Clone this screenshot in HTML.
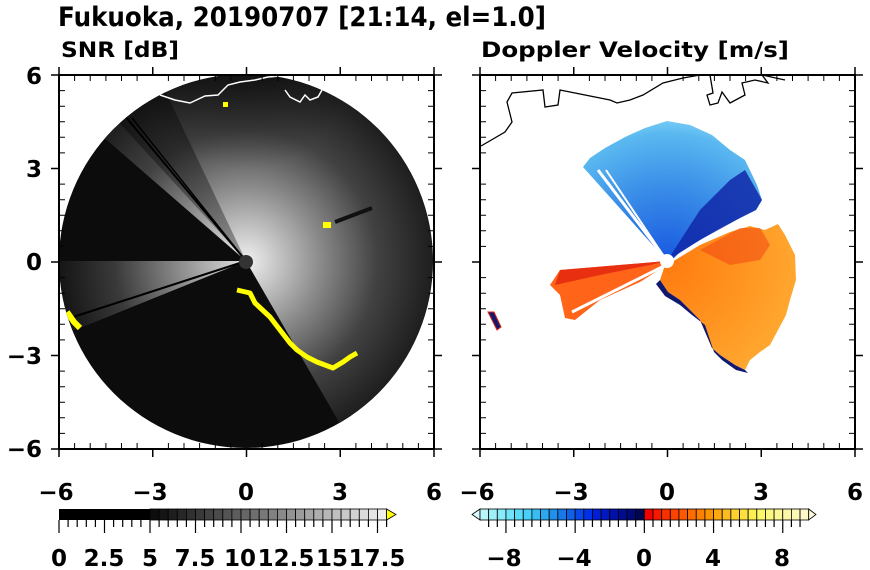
<!DOCTYPE html>
<html><head><meta charset="utf-8"><style>
html,body{margin:0;padding:0;background:#fff;}
svg{display:block;}
text{font-family:"DejaVu Sans","Liberation Sans",sans-serif;font-weight:bold;fill:#000;}
</style></head><body>
<svg width="870" height="570" viewBox="0 0 870 570" xmlns="http://www.w3.org/2000/svg">
<defs>
<radialGradient id="gs" cx="246" cy="261" r="187" gradientUnits="userSpaceOnUse">
<stop offset="0" stop-color="#f0f0f0"/><stop offset="0.15" stop-color="#cacaca"/>
<stop offset="0.4" stop-color="#8a8a8a"/><stop offset="0.7" stop-color="#424242"/><stop offset="1" stop-color="#1e1e1e"/>
</radialGradient>
<radialGradient id="gw" cx="246" cy="261" r="187" gradientUnits="userSpaceOnUse">
<stop offset="0" stop-color="#e0e0e0"/><stop offset="0.3" stop-color="#9a9a9a"/>
<stop offset="0.7" stop-color="#3a3a3a"/><stop offset="1" stop-color="#151515"/>
</radialGradient>
<radialGradient id="gb" cx="667" cy="261" r="150" gradientUnits="userSpaceOnUse">
<stop offset="0" stop-color="#1858e0"/><stop offset="0.5" stop-color="#3a8ee8"/>
<stop offset="0.85" stop-color="#5ab8f0"/><stop offset="1" stop-color="#8ad8f8"/>
</radialGradient>
<radialGradient id="go" cx="667" cy="261" r="150" gradientUnits="userSpaceOnUse">
<stop offset="0" stop-color="#ff7a10"/><stop offset="0.5" stop-color="#ff9420"/>
<stop offset="0.9" stop-color="#ffa830"/><stop offset="1" stop-color="#ffc050"/>
</radialGradient>
<radialGradient id="top" cx="246" cy="60" r="110" gradientUnits="userSpaceOnUse">
<stop offset="0" stop-color="#000" stop-opacity="0.5"/><stop offset="1" stop-color="#000" stop-opacity="0"/>
</radialGradient>
<clipPath id="cc"><circle cx="246" cy="261" r="187"/></clipPath>
</defs>

<text x="58" y="26" font-size="27" textLength="488" lengthAdjust="spacingAndGlyphs">Fukuoka, 20190707 [21:14, el=1.0]</text>
<text x="61" y="57" font-size="21" textLength="118" lengthAdjust="spacingAndGlyphs">SNR [dB]</text>
<text x="481" y="57" font-size="21" textLength="308" lengthAdjust="spacingAndGlyphs">Doppler Velocity [m/s]</text>

<circle cx="246" cy="261" r="187" fill="#0c0c0c"/>
<g clip-path="url(#cc)">
<path d="M246,261 L339.5,423 A187,187 0 1 0 104.8,138.3 Z" fill="url(#gs)"/>
<path d="M246,261 L59,261 A187,187 0 0 0 72.6,331 Z" fill="url(#gw)"/>
<path d="M246,261 L80,80 L160,80 Z" fill="#000" opacity="0.35"/>
<rect x="59" y="60" width="380" height="120" fill="url(#top)"/>
<line x1="246" y1="261" x2="120" y2="110" stroke="#000" stroke-width="2"/>
<line x1="246" y1="261" x2="132" y2="118" stroke="#000" stroke-width="1.5"/>
<line x1="246" y1="261" x2="70" y2="318" stroke="#000" stroke-width="2"/>
<line x1="335" y1="222" x2="372" y2="208" stroke="#111" stroke-width="4"/>
<polyline points="160,95 175,100 190,103 205,96 218,95 228,85 240,82 255,80 268,77 280,76" fill="none" stroke="#fff" stroke-width="1.5"/>
<polyline points="285,90 290,97 300,102 305,95 310,100 318,97 322,90 328,88" fill="none" stroke="#fff" stroke-width="1.5"/>
<polyline points="237,290 250,293 255,303 270,317 280,330 290,343 297,350 307,357 317,362 333,368 343,362 350,357 357,353" fill="none" stroke="#ffff00" stroke-width="5" stroke-linejoin="round"/>
<rect x="323" y="222" width="8" height="6" fill="#ffff00"/>
<rect x="223" y="102" width="5" height="5" fill="#ffff00"/>
<polyline points="67,312 74,322 80,328" fill="none" stroke="#ffff00" stroke-width="6"/>
</g>
<circle cx="246" cy="262" r="7" fill="#333"/>

<g>
<path d="M667,261 L583,167 L590,158 L605,148 L625,137 L645,128 L667,121 L690,125 L712,135 L730,150 L745,160 L757,185 L762,200 L756,210 L740,218 L720,228 L700,240 L680,252 L672,260 Z" fill="url(#gb)"/>
<path d="M667,261 L700,240 L740,218 L756,210 L762,200 L745,170 L730,180 L700,210 Z" fill="#1028a8" opacity="0.85"/>
<line x1="667" y1="261" x2="598" y2="170" stroke="#fff" stroke-width="3"/>
<line x1="667" y1="261" x2="606" y2="170" stroke="#fff" stroke-width="2"/>
<path d="M672,262 L700,245 L730,232 L750,226 L765,230 L778,224 L785,235 L795,255 L796,280 L790,300 L786,315 L778,330 L770,345 L760,352 L750,360 L745,370 L735,365 L720,355 L712,348 L700,320 L690,310 L680,300 L668,292 L660,280 L664,268 Z" fill="url(#go)"/>
<path d="M660,280 L668,292 L680,300 L690,310 L700,320 L712,348 L720,355 L735,365 L745,370 L748,373 L736,370 L722,360 L714,352 L705,325 L692,315 L680,305 L665,296 L656,284 Z" fill="#101870"/>
<path d="M700,250 L740,228 L760,228 L770,245 L760,260 L730,265 Z" fill="#f04010" opacity="0.5"/>
<path d="M667,261 L560,270 L550,285 L560,295 L565,318 L575,320 L600,300 L640,282 L662,268 Z" fill="#ff6418"/>
<path d="M667,261 L560,270 L555,285 L600,275 L650,265 Z" fill="#e83010"/>
<line x1="664" y1="266" x2="572" y2="312" stroke="#fff" stroke-width="3"/>
<path d="M488,312 L494,312 L501,327 L497,330 Z" fill="#101870" stroke="#e02010" stroke-width="1"/>
<circle cx="667" cy="261" r="7" fill="#fff"/>
<polyline points="481,146 505,132 512,122 507,102 512,93 543,90 545,107 558,105 560,90 570,92 610,100 617,103 630,100 643,95 663,83 683,78 700,75 710,75 713,93 707,95 710,105 718,103 722,92 730,103 745,95 742,83 755,80 768,83 762,75 785,80" fill="none" stroke="#000" stroke-width="1.3"/>
</g>

<g stroke="#000" fill="none">
<rect x="59" y="75" width="375" height="374" stroke-width="2"/>
<rect x="480" y="75" width="375" height="374" stroke-width="2"/>
</g>
<g stroke="#000" stroke-width="1.5">
<path d="
M59,75v-8M152.75,75v-8M246.5,75v-8M340.25,75v-8M434,75v-8
M59,449v8M152.75,449v8M246.5,449v8M340.25,449v8M434,449v8
M59,75h-8M59,168.5h-8M59,262h-8M59,355.5h-8M59,449h-8
M434,75h8M434,168.5h8M434,262h8M434,355.5h8M434,449h8
M480,75v-8M573.75,75v-8M667.5,75v-8M761.25,75v-8M855,75v-8
M480,449v8M573.75,449v8M667.5,449v8M761.25,449v8M855,449v8
M480,75h-8M480,168.5h-8M480,262h-8M480,355.5h-8M480,449h-8
M855,75h8M855,168.5h8M855,262h8M855,355.5h8M855,449h8"/>
</g>
<g stroke="#000" stroke-width="1">
<path id="mn" d="
M74.6,75v6M90.2,75v6M105.9,75v6M121.5,75v6M137.1,75v6M168.4,75v6M184,75v6M199.6,75v6M215.3,75v6M230.9,75v6M262.1,75v6M277.8,75v6M293.4,75v6M309,75v6M324.6,75v6M355.9,75v6M371.5,75v6M387.1,75v6M402.8,75v6M418.4,75v6
M74.6,449v-6M90.2,449v-6M105.9,449v-6M121.5,449v-6M137.1,449v-6M168.4,449v-6M184,449v-6M199.6,449v-6M215.3,449v-6M230.9,449v-6M262.1,449v-6M277.8,449v-6M293.4,449v-6M309,449v-6M324.6,449v-6M355.9,449v-6M371.5,449v-6M387.1,449v-6M402.8,449v-6M418.4,449v-6
M59,90.6h6M59,106.2h6M59,121.8h6M59,137.3h6M59,152.9h6M59,184.1h6M59,199.7h6M59,215.3h6M59,230.8h6M59,246.4h6M59,277.6h6M59,293.2h6M59,308.8h6M59,324.3h6M59,339.9h6M59,371.1h6M59,386.7h6M59,402.3h6M59,417.8h6M59,433.4h6
M434,90.6h-6M434,106.2h-6M434,121.8h-6M434,137.3h-6M434,152.9h-6M434,184.1h-6M434,199.7h-6M434,215.3h-6M434,230.8h-6M434,246.4h-6M434,277.6h-6M434,293.2h-6M434,308.8h-6M434,324.3h-6M434,339.9h-6M434,371.1h-6M434,386.7h-6M434,402.3h-6M434,417.8h-6M434,433.4h-6"/>
<use href="#mn" transform="translate(421,0)"/>
</g>

<g font-size="23" text-anchor="end">
<text x="42" y="84">6</text><text x="42" y="177">3</text><text x="42" y="270">0</text><text x="42" y="364">−3</text><text x="42" y="457">−6</text>
</g>
<g font-size="23" text-anchor="middle">
<text x="56" y="500">−6</text><text x="150" y="500">−3</text><text x="246" y="500">0</text><text x="340" y="500">3</text><text x="434" y="500">6</text>
<text x="477" y="500">−6</text><text x="571" y="500">−3</text><text x="667" y="500">0</text><text x="761" y="500">3</text><text x="855" y="500">6</text>
</g>

<rect x="59" y="509" width="91" height="11" fill="#000"/>
<g stroke="#000" stroke-width="0.8">
<rect x="150" y="509" width="9.1" height="11" fill="#0d0d0d"/><rect x="159.1" y="509" width="9.1" height="11" fill="#151515"/><rect x="168.2" y="509" width="9.1" height="11" fill="#1e1e1e"/><rect x="177.3" y="509" width="9.1" height="11" fill="#272727"/><rect x="186.4" y="509" width="9.1" height="11" fill="#303030"/><rect x="195.5" y="509" width="9.1" height="11" fill="#393939"/><rect x="204.6" y="509" width="9.1" height="11" fill="#424242"/><rect x="213.7" y="509" width="9.1" height="11" fill="#4b4b4b"/><rect x="222.8" y="509" width="9.1" height="11" fill="#545454"/><rect x="231.9" y="509" width="9.1" height="11" fill="#5d5d5d"/><rect x="241" y="509" width="9.1" height="11" fill="#666"/><rect x="250.1" y="509" width="9.1" height="11" fill="#6f6f6f"/><rect x="259.2" y="509" width="9.1" height="11" fill="#787878"/><rect x="268.3" y="509" width="9.1" height="11" fill="#818181"/><rect x="277.4" y="509" width="9.1" height="11" fill="#8a8a8a"/><rect x="286.5" y="509" width="9.1" height="11" fill="#939393"/><rect x="295.6" y="509" width="9.1" height="11" fill="#9c9c9c"/><rect x="304.7" y="509" width="9.1" height="11" fill="#a5a5a5"/><rect x="313.8" y="509" width="9.1" height="11" fill="#aeaeae"/><rect x="322.9" y="509" width="9.1" height="11" fill="#b7b7b7"/><rect x="332" y="509" width="9.1" height="11" fill="#c0c0c0"/><rect x="341.1" y="509" width="9.1" height="11" fill="#c9c9c9"/><rect x="350.2" y="509" width="9.1" height="11" fill="#d2d2d2"/><rect x="359.3" y="509" width="9.1" height="11" fill="#dbdbdb"/><rect x="368.4" y="509" width="9.1" height="11" fill="#e4e4e4"/><rect x="377.5" y="509" width="9.1" height="11" fill="#ededed"/>
<path d="M386.6,509 L396,514.5 L386.6,520 Z" fill="#ffff00"/>
</g>
<path stroke="#000" stroke-width="1.2" d="M59,520v13M104.5,520v13M150,520v13M195.5,520v13M241,520v13M286.5,520v13M332,520v13M377.5,520v13
M68.1,520v7M77.2,520v7M86.3,520v7M95.4,520v7M113.6,520v7M122.7,520v7M131.8,520v7M140.9,520v7M159.1,520v7M168.2,520v7M177.3,520v7M186.4,520v7M204.6,520v7M213.7,520v7M222.8,520v7M231.9,520v7M250.1,520v7M259.2,520v7M268.3,520v7M277.4,520v7M295.6,520v7M304.7,520v7M313.8,520v7M322.9,520v7M341.1,520v7M350.2,520v7M359.3,520v7M368.4,520v7M386.6,520v7"/>
<g font-size="23" text-anchor="middle">
<text x="59" y="566">0</text><text x="104" y="566">2.5</text><text x="150" y="566">5</text><text x="195" y="566">7.5</text><text x="240" y="566">10</text><text x="286" y="566">12.5</text><text x="332" y="566">15</text><text x="377" y="566">17.5</text>
</g>

<g stroke="#000" stroke-width="0.8">
<path d="M480,509 L472,514.5 L480,520 Z" fill="#d8fcfc"/>
<rect x="480" y="509" width="8.65" height="11" fill="#b8f4f8"/><rect x="488.65" y="509" width="8.65" height="11" fill="#a0f0f8"/><rect x="497.3" y="509" width="8.65" height="11" fill="#88ecf8"/><rect x="505.95" y="509" width="8.65" height="11" fill="#70e4f8"/><rect x="514.6" y="509" width="8.65" height="11" fill="#58dcf8"/><rect x="523.25" y="509" width="8.65" height="11" fill="#48cef8"/><rect x="531.9" y="509" width="8.65" height="11" fill="#38bcf4"/><rect x="540.55" y="509" width="8.65" height="11" fill="#2ca8f0"/><rect x="549.2" y="509" width="8.65" height="11" fill="#2090ec"/><rect x="557.85" y="509" width="8.65" height="11" fill="#1878e8"/><rect x="566.5" y="509" width="8.65" height="11" fill="#1060e8"/><rect x="575.15" y="509" width="8.65" height="11" fill="#0848e8"/><rect x="583.8" y="509" width="8.65" height="11" fill="#0030e8"/><rect x="592.45" y="509" width="8.65" height="11" fill="#0020d8"/><rect x="601.1" y="509" width="8.65" height="11" fill="#0018c0"/><rect x="609.75" y="509" width="8.65" height="11" fill="#0010a8"/><rect x="618.4" y="509" width="8.65" height="11" fill="#000c90"/><rect x="627.05" y="509" width="8.65" height="11" fill="#000878"/><rect x="635.7" y="509" width="8.65" height="11" fill="#000550"/>
<rect x="644.35" y="509" width="8.65" height="11" fill="#f00000"/><rect x="653" y="509" width="8.65" height="11" fill="#f81800"/><rect x="661.65" y="509" width="8.65" height="11" fill="#f83000"/><rect x="670.3" y="509" width="8.65" height="11" fill="#fc4400"/><rect x="678.95" y="509" width="8.65" height="11" fill="#fc5800"/><rect x="687.6" y="509" width="8.65" height="11" fill="#fc6c00"/><rect x="696.25" y="509" width="8.65" height="11" fill="#fc8000"/><rect x="704.9" y="509" width="8.65" height="11" fill="#fc9400"/><rect x="713.55" y="509" width="8.65" height="11" fill="#fcaa10"/><rect x="722.2" y="509" width="8.65" height="11" fill="#fcbc20"/><rect x="730.85" y="509" width="8.65" height="11" fill="#fcd030"/><rect x="739.5" y="509" width="8.65" height="11" fill="#fce040"/><rect x="748.15" y="509" width="8.65" height="11" fill="#fcf050"/><rect x="756.8" y="509" width="8.65" height="11" fill="#fcf868"/><rect x="765.45" y="509" width="8.65" height="11" fill="#fcf880"/><rect x="774.1" y="509" width="8.65" height="11" fill="#fcf898"/><rect x="782.75" y="509" width="8.65" height="11" fill="#fcf8a8"/><rect x="791.4" y="509" width="8.65" height="11" fill="#fcf8b8"/><rect x="800.05" y="509" width="8.65" height="11" fill="#fcf8c8"/>
<path d="M808.7,509 L816,514.5 L808.7,520 Z" fill="#fcfad8"/>
</g>
<path stroke="#000" stroke-width="1.2" d="M505.95,520v13M575.15,520v13M644.35,520v13M713.55,520v13M782.75,520v13
M488.65,520v7M497.3,520v7M514.6,520v7M523.25,520v7M531.9,520v7M540.55,520v7M549.2,520v7M557.85,520v7M566.5,520v7M583.8,520v7M592.45,520v7M601.1,520v7M609.75,520v7M618.4,520v7M627.05,520v7M635.7,520v7M653,520v7M661.65,520v7M670.3,520v7M678.95,520v7M687.6,520v7M696.25,520v7M704.9,520v7M722.2,520v7M730.85,520v7M739.5,520v7M748.15,520v7M756.8,520v7M765.45,520v7M774.1,520v7M791.4,520v7M800.05,520v7"/>
<g font-size="23" text-anchor="middle">
<text x="504" y="566">−8</text><text x="574" y="566">−4</text><text x="644" y="566">0</text><text x="713" y="566">4</text><text x="782" y="566">8</text>
</g>
</svg>
</body></html>
